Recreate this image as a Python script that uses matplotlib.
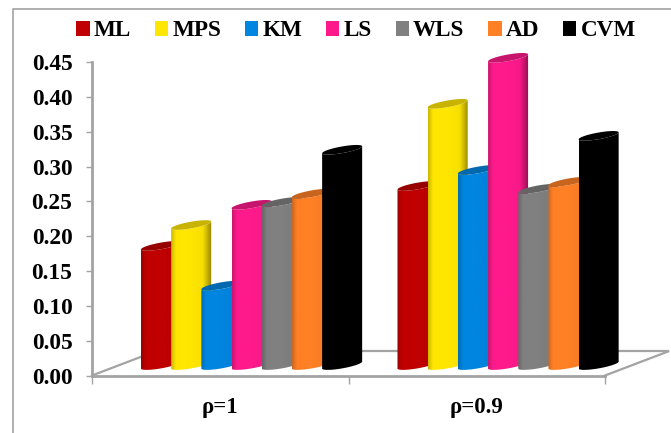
import matplotlib
matplotlib.use("Agg")
import matplotlib.pyplot as plt
from matplotlib.patches import Patch, PathPatch
from matplotlib.path import Path
from matplotlib.lines import Line2D
import numpy as np

plt.rcParams['font.family'] = ['Liberation Serif', 'DejaVu Serif']
plt.rcParams['font.weight'] = 'bold'

methods = ["ML", "MPS", "KM", "LS", "WLS", "AD", "CVM"]
groups = ["ρ=1", "ρ=0.9"]
values_rho1 = [0.171, 0.201, 0.114, 0.230, 0.234, 0.246, 0.309]
values_rho09 = [0.257, 0.375, 0.280, 0.441, 0.253, 0.263, 0.329]
colors = ["#c00000", "#ffe600", "#0085e0", "#ff1a8c", "#808080", "#ff8025", "#000000"]
yticks = [0.00, 0.05, 0.10, 0.15, 0.20, 0.25, 0.30, 0.35, 0.40, 0.45]

W, H = 671, 433
GREY = "#a3a3a3"

# cylinder geometry, x in category units and y in axis units
left0 = 0.191
step = 0.1177
bar_w = 0.156
base = 0.010
tilt = 0.0050
sag = 0.0048
floor_dx = 0.246
floor_dy = 0.0345

fig = plt.figure(figsize=(W / 100, H / 100), dpi=100)
ax = fig.add_axes([92 / W, 1 - 375.5 / H, (605 - 92) / W, (375.5 - 62) / H])


def rim(x0, y0, t):
    # points on the tilted ellipse whose left end sits at (x0, y0)
    xc = x0 + bar_w / 2
    yc = y0 + tilt
    return xc + bar_w / 2 * np.cos(t), yc + tilt * np.cos(t) + sag * np.sin(t)


def draw_cylinder(x0, value, color, z):
    top = base + value
    front = np.linspace(np.pi, 2 * np.pi, 40)
    bx, by = rim(x0, base, front)
    tx, ty = rim(x0, top, front[::-1])
    body = Path(np.column_stack([np.r_[bx, tx], np.r_[by, ty]]))

    # horizontal shading across the cylinder
    rgb = np.array(matplotlib.colors.to_rgb(color))
    pos = np.linspace(0, 1, 80)
    shade = np.interp(pos, [0, 0.12, 0.5, 0.78, 1], [0.80, 1.0, 1.0, 0.97, 0.58])
    strip = (rgb * shade[:, None])[None, :, :]
    im = ax.imshow(strip, extent=(x0, x0 + bar_w, base - 0.01, top + 0.02),
                   aspect='auto', zorder=z, interpolation='bilinear')
    # the cylinders stand in front of the plot box, so only the body shape clips them
    im.set_clip_box(fig.bbox)
    im.set_clip_path(PathPatch(body, transform=ax.transData))

    # darker top face
    ex, ey = rim(x0, top, np.linspace(0, 2 * np.pi, 60))
    ax.fill(ex, ey, color=rgb * 0.78, lw=0, zorder=z + 0.5, clip_on=False)


# floor of the chart
ax.plot([0, floor_dx], [0, floor_dy], color=GREY, lw=1.6, zorder=1, clip_on=False)
ax.plot([floor_dx, 2 + floor_dx], [floor_dy, floor_dy], color=GREY, lw=1.6, zorder=1, clip_on=False)
ax.plot([2, 2 + floor_dx], [0, floor_dy], color=GREY, lw=1.6, zorder=1, clip_on=False)

z = 3
for g, vals in enumerate([values_rho1, values_rho09]):
    for i, v in enumerate(vals):
        draw_cylinder(g + left0 + i * step, v, colors[i], z)
        z += 1

ax.set_xlim(0, 2)
ax.set_ylim(0, 0.45)
for s in ["top", "right"]:
    ax.spines[s].set_visible(False)
for s in ["left", "bottom"]:
    ax.spines[s].set_color(GREY)
    ax.spines[s].set_linewidth(2.0)

ax.set_yticks(yticks)
ax.set_yticklabels([f"{t:.2f}" for t in yticks], fontsize=16.8, fontweight='bold')
ax.tick_params(axis='y', length=4.5, width=1.0, color=GREY, pad=9.6)
ax.set_xticks([0, 1, 2])
ax.set_xticklabels(["", "", ""])
ax.tick_params(axis='x', which='major', length=5.5, width=1.0, color=GREY)
ax.set_xticks([0.5, 1.5], minor=True)
ax.set_xticklabels(groups, minor=True, fontsize=16.5, fontweight='bold')
ax.tick_params(axis='x', which='minor', length=0, pad=15.5)

handles = [Patch(facecolor=c, edgecolor='none', label=m) for m, c in zip(methods, colors)]
fig.legend(handles=handles, ncol=7, frameon=False, loc='center',
           bbox_to_anchor=(356 / W, 1 - 31 / H), prop={'size': 16.7, 'weight': 'bold'},
           handlelength=0.58, handleheight=0.58, handletextpad=0.18,
           columnspacing=1.02, borderpad=0, borderaxespad=0)

# outer chart frame, running past the right and lower edges
fig.add_artist(Line2D([13 / W, 13 / W, 1], [0, 1 - 9 / H, 1 - 9 / H], color="#9a9a9a", lw=1.1))

fig.savefig("out.png", dpi=100)
